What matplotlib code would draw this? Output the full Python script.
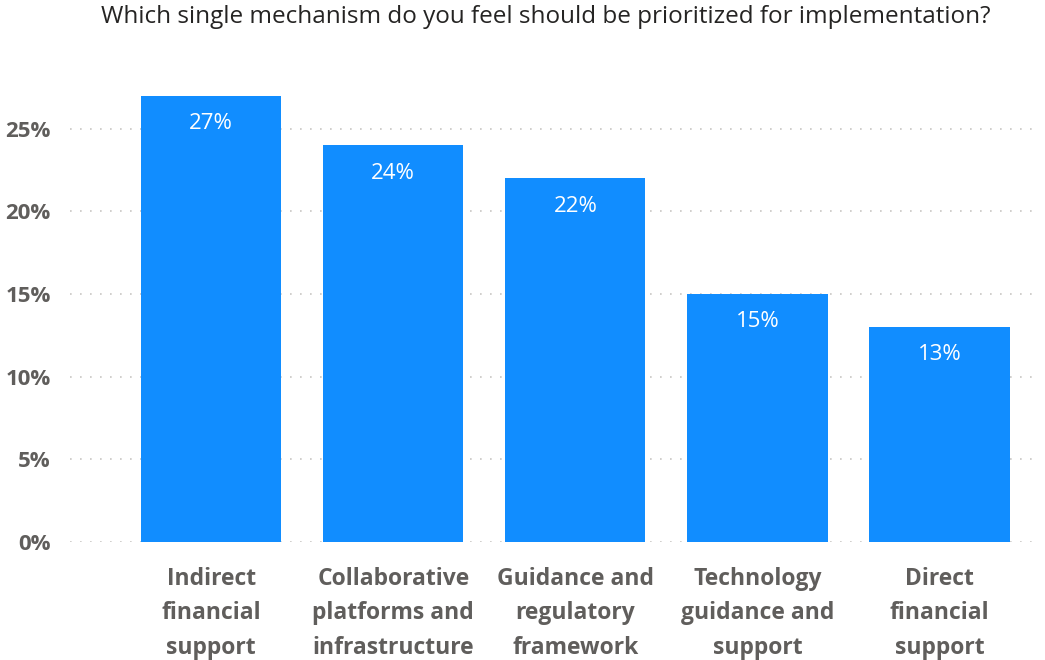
import matplotlib.pyplot as plt
from matplotlib.ticker import FuncFormatter

# survey results: share of respondents per mechanism
mechanisms = ['Indirect\nfinancial\nsupport',
              'Collaborative\nplatforms and\ninfrastructure',
              'Guidance and\nregulatory\nframework',
              'Technology\nguidance and\nsupport',
              'Direct\nfinancial\nsupport']
shares = [27, 24, 22, 15, 13]

plt.rcParams['font.family'] = ['Open Sans', 'DejaVu Sans']

fig = plt.figure(figsize=(10.45, 6.6), dpi=100)
ax = fig.add_axes([0.067, 0.179, 0.928, 0.676])

x = range(len(shares))
bars = ax.bar(x, shares, width=0.77, color='#118DFF', zorder=2)

for xi, v in zip(x, shares):
    ax.annotate(f'{v}%', xy=(xi, v), xytext=(0, -20), textcoords='offset points',
                ha='center', va='center', color='white', fontsize=16)

ax.set_xlim(-0.775, 4.55)
ax.set_ylim(0, 27)
ax.set_yticks([0, 5, 10, 15, 20, 25])
ax.yaxis.set_major_formatter(FuncFormatter(lambda v, p: f'{v:.0f}%'))
ax.grid(axis='y', linestyle=(0, (1, 5)), color='#C8C6C4', linewidth=1.2, zorder=0)

ax.set_xticks(list(x))
ax.set_xticklabels(mechanisms, fontsize=16.5, fontweight='bold', color='#605E5C',
                   linespacing=1.58)
ax.tick_params(axis='x', length=0, pad=18)
ax.tick_params(axis='y', length=0, pad=14, labelsize=16, labelcolor='#605E5C')
for lbl in ax.get_yticklabels():
    lbl.set_fontweight('bold')

for s in ax.spines.values():
    s.set_visible(False)

fig.text(0.522, 0.974, 'Which single mechanism do you feel should be prioritized for implementation?',
         ha='center', va='center', fontsize=17.5, color='#252423')

fig.savefig('out.png', dpi=100)
